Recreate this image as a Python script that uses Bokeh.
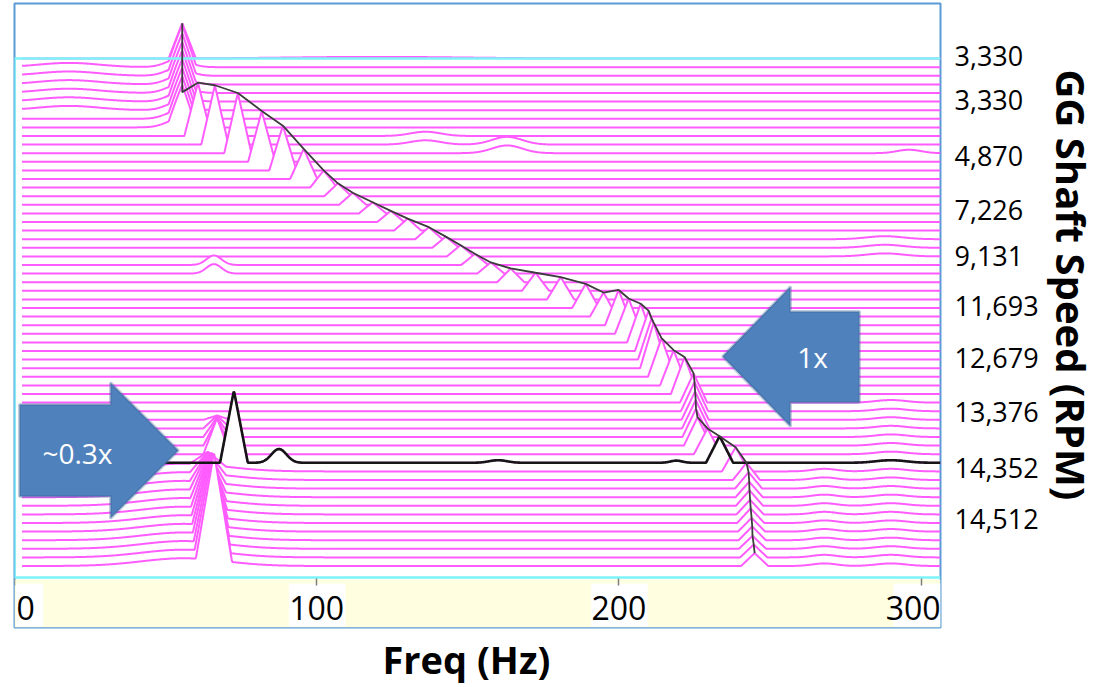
import numpy as np
from bokeh.plotting import figure
from bokeh.models import Range1d, FixedTicker, PolyAnnotation, Label, Title
from bokeh.embed import file_html
from bokeh.resources import INLINE

# ---------------- data ----------------
# 1x order peak per spectrum (back/top trace first): frequency in Hz
f1 = [55.5, 55.5, 55.5, 55.5, 55.5, 55.5, 55.5, 55.5, 55.5,
      60.7, 66.3, 73.9, 81.8, 88.8, 95.7, 102.3, 107.0, 111.9, 118.5,
      124.5, 130.1, 137.1, 142.7, 147.6, 152.3, 157.6, 164.2, 172.4, 180.7,
      189.0, 194.9, 199.9, 203.2, 207.2, 209.8, 210.8, 211.5, 214.1, 218.1,
      221.7, 224.7, 225.0, 225.2, 225.4, 225.5, 226.0, 229.3, 233.3, 238.6,
      242.2, 242.9, 243.1, 243.2, 243.4, 243.6, 243.9, 244.1, 244.2, 244.6, 244.9]
# 1x peak height, in trace-offset units
a1 = [4.1, 4.1, 4.1, 4.1, 4.1, 4.1, 4.1, 4.1, 4.1,
      6.2, 6.9, 7.0, 5.9, 5.2, 3.5, 2.0, 1.5, 1.4, 1.3,
      1.3, 1.4, 1.4, 1.3, 1.3, 1.3, 1.3, 1.6, 2.1, 2.6,
      2.8, 2.8, 4.1, 4.1, 4.5, 4.7, 4.8, 5.3, 4.5, 4.1,
      4.3, 3.4, 3.4, 3.3, 3.3, 3.3, 3.3, 3.0, 3.1, 2.8,
      2.0, 1.9, 1.8, 1.8, 1.7, 1.7, 1.6, 1.6, 1.5, 1.5, 1.5]
# sub-synchronous (~0.3x) peak: trace index, frequency (Hz), height, half-width (Hz)
sub_rows = [42, 43, 44, 45, 46, 47, 48, 49, 50, 51, 52, 53, 54, 55, 56, 57, 58, 59]
sub_f = [67.0, 67.0, 67.0, 67.0, 67.0, 72.6, 64.0, 64.0, 64.0, 64.0, 64.2, 64.4,
         64.6, 64.8, 65.0, 65.3, 65.6, 66.0]
sub_a = [0.5, 1.5, 2.3, 3.1, 4.2, 8.4, 1.5, 2.5, 3.5, 4.5, 5.5, 6.5,
         7.5, 8.5, 9.5, 10.5, 11.5, 12.5]
sub_w = [4.5, 4.5, 4.5, 4.5, 4.5, 4.6, 6.0, 6.0, 6.0, 6.0, 6.0, 6.0,
         6.0, 6.0, 6.0, 6.0, 6.0, 6.0]
# other minor spectral features: first trace, last trace, frequency, height, width
bump_first = [1, 9, 10, 11, 21, 24, 48, 0, 47, 47, 47, 40, 1, 48]
bump_last = [6, 10, 11, 11, 23, 25, 59, 0, 47, 47, 47, 59, 8, 59]
bump_f = [18.0, 136.0, 163.0, 296.0, 288.0, 66.0, 56.0, 120.0, 87.5, 160.0, 219.0, 290.0,
          54.0, 268.0]
bump_a = [0.5, 0.5, 0.9, 0.4, 0.35, 1.1, 0.9, 0.2, 1.6, 0.3, 0.25, 0.3, 0.9, 0.3]
bump_w = [10.0, 5.0, 5.0, 4.0, 6.0, 2.5, 14.0, 30.0, 2.5, 3.0, 2.0, 5.0, 4.0, 4.0]
highlight = 47  # spectrum drawn in black (14,352 RPM)

rpm_labels = ["3,330", "3,330", "4,870", "7,226", "9,131",
              "11,693", "12,679", "13,376", "14,352", "14,512"]
rpm_label_pos = [0.36, -4.87, -11.27, -17.66, -22.91, -28.71, -34.76, -41.15, -47.66, -53.48]
x_ticks = [0, 100, 200, 300]

# ---------------- layout helpers ----------------
FMAX = 306.4
F_START = 2.5
Y_TOP, Y_BOT = 6.407, -66.15
PXHZ = 926.0 / FMAX


def hz(px):
    return (px - 14.0) / PXHZ


def row(py):
    return (58.1 - py) / 8.6


HW_1X = 4.5
MAGENTA = "#FF5CFF"
CYAN = "#7CF4F8"

freq = np.linspace(F_START, FMAX, 1520)


def tri(f0, a, w):
    return a * np.clip(1.0 - np.abs(freq - f0) / w, 0.0, None)


def smooth(f0, a, w):
    return a * np.exp(-0.5 * ((freq - f0) / w) ** 2)


N = len(f1)
spectra = []
for k in range(N):
    s = tri(f1[k], a1[k], HW_1X)
    if k in sub_rows:
        i = sub_rows.index(k)
        s = s + tri(sub_f[i], sub_a[i], sub_w[i])
    for b0, b1, bf, ba, bw in zip(bump_first, bump_last, bump_f, bump_a, bump_w):
        if b0 <= k <= b1:
            s = s + smooth(bf, ba, bw)
    spectra.append(s)

p = figure(width=1110, height=687, x_range=Range1d(0, FMAX), y_range=Range1d(Y_BOT, Y_TOP),
           y_axis_location="right", toolbar_location=None, output_backend="svg",
           min_border_left=14, min_border_right=170, min_border_top=3, min_border_bottom=60)
p.xgrid.visible = False
p.ygrid.visible = False
p.background_fill_color = "white"
p.border_fill_color = "white"
p.outline_line_color = "#5B9BD5"
p.outline_line_width = 2

# axis band
p.quad(left=0, right=FMAX, bottom=Y_BOT, top=row(579), fill_color="#FFFEE0", line_color=None)
p.quad(left=[max(0.5, t - 9.2) for t in x_ticks], right=[min(FMAX, t + 9.5) for t in x_ticks],
       bottom=row(626), top=row(583), fill_color="white", line_color=None)

# waterfall traces, back to front, with hidden-line fill
for k in range(N):
    base = -k
    y = base + spectra[k]
    p.varea(x=freq, y1=np.full_like(freq, float(base)), y2=y, fill_color="white")
    p.line(freq, y, line_color=MAGENTA, line_width=2.0)

# plot-area border lines
p.line([FMAX, 0, 0, FMAX], [0, 0, row(577), row(577)], line_color=CYAN, line_width=2.5)

# highlighted spectrum
p.line(freq, -highlight + spectra[highlight], line_color="#151515", line_width=2.6)

# 1x order track through the peak tops
p.line(f1, [-k + a1[k] for k in range(N)], line_color="#3C3C3C", line_width=1.8)

# axes
xa = p.xaxis[0]
xa.fixed_location = row(578)
xa.ticker = FixedTicker(ticks=x_ticks)
xa.major_label_overrides = {0: "\u20020", 300: "300\u2002"}
xa.major_label_text_font = "Open Sans"
xa.major_label_text_font_size = "32px"
xa.major_label_text_color = "black"
xa.major_label_standoff = 0
xa.major_tick_out = 7
xa.major_tick_in = 0
xa.major_tick_line_color = "#7F7F7F"
xa.major_tick_line_width = 1.5
xa.minor_tick_line_color = None
xa.axis_line_color = None

ya = p.yaxis[0]
ya.ticker = FixedTicker(ticks=rpm_label_pos)
ya.major_label_overrides = {v: t for v, t in zip(rpm_label_pos, rpm_labels)}
ya.major_label_text_font = "Open Sans"
ya.major_label_text_font_size = "27px"
ya.major_label_text_color = "black"
ya.major_label_standoff = 14
ya.major_tick_out = 0
ya.major_tick_in = 0
ya.major_tick_line_color = None
ya.minor_tick_line_color = None
ya.axis_line_color = None

p.add_layout(Title(text="GG Shaft Speed (RPM)", align="left", offset=66, standoff=4,
                   text_font="Open Sans", text_font_style="bold", text_font_size="40px",
                   text_color="black"), "right")
p.add_layout(Title(text="Freq (Hz)", align="left", offset=368, standoff=6,
                   vertical_align="bottom",
                   text_font="Open Sans", text_font_style="bold", text_font_size="38px",
                   text_color="black"), "below")

# callout arrows
ARROW_FILL = "#4F81BD"
ARROW_LINE = "#385D8A"
left_px = [19, 110, 110, 178, 110, 110, 19]
left_py = [404, 404, 382, 450, 518, 496, 496]
right_px = [722, 790, 790, 859, 859, 790, 790]
right_py = [356, 286, 311, 311, 402, 402, 426]
p.add_layout(PolyAnnotation(xs=[hz(v) for v in left_px], ys=[row(v) for v in left_py],
                            fill_color=ARROW_FILL, fill_alpha=1.0, line_color=ARROW_LINE,
                            line_width=3))
p.add_layout(PolyAnnotation(xs=[hz(v) for v in right_px], ys=[row(v) for v in right_py],
                            fill_color=ARROW_FILL, fill_alpha=1.0, line_color=ARROW_LINE,
                            line_width=3))
p.add_layout(Label(x=hz(77), y=row(452), text="~0.3x", text_color="white",
                   text_font="Open Sans", text_font_size="28px",
                   text_align="center", text_baseline="middle"))
p.add_layout(Label(x=hz(812), y=row(356), text="1x", text_color="white",
                   text_font="Open Sans", text_font_size="28px",
                   text_align="center", text_baseline="middle"))

open("out.html", "w").write(file_html(p, INLINE))
